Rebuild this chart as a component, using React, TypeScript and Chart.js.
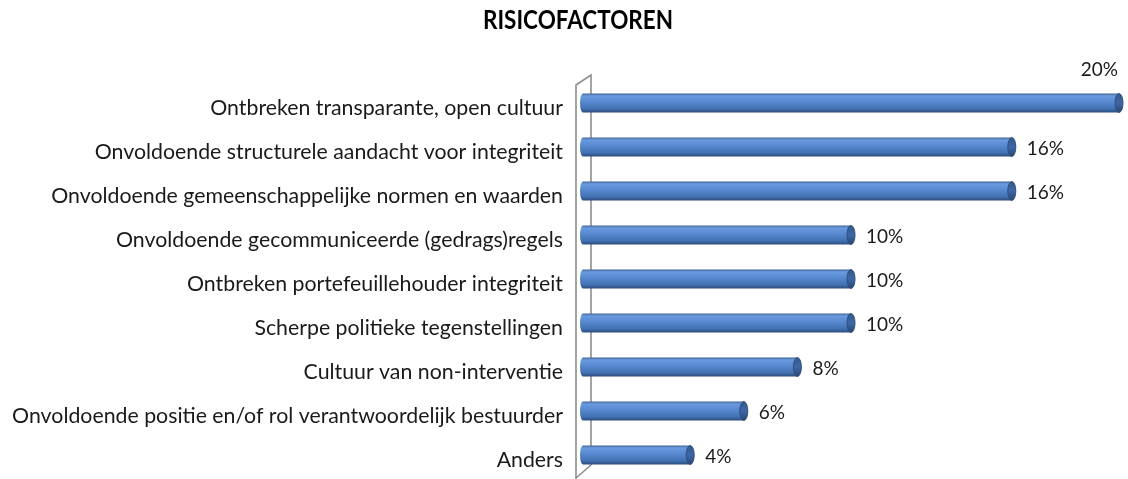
import React, { useEffect, useRef } from "react";
import { Chart, registerables } from "chart.js";

Chart.register(...registerables);

const TITLE = "RISICOFACTOREN";
const categories = [
  "Ontbreken transparante, open cultuur",
  "Onvoldoende structurele aandacht voor integriteit",
  "Onvoldoende gemeenschappelijke normen en waarden",
  "Onvoldoende gecommuniceerde (gedrags)regels",
  "Ontbreken portefeuillehouder integriteit",
  "Scherpe politieke tegenstellingen",
  "Cultuur van non-interventie",
  "Onvoldoende positie en/of rol verantwoordelijk bestuurder",
  "Anders",
];
const values = [20, 16, 16, 10, 10, 10, 8, 6, 4];
const valueLabels = ["20%", "16%", "16%", "10%", "10%", "10%", "8%", "6%", "4%"];
const X_MAX = 20;

const FONT = "Lato, 'Open Sans', sans-serif";

const wallPlugin = {
  id: "wall",
  beforeDatasetsDraw(chart: any) {
    const { ctx, chartArea } = chart;
    const l = chartArea.left - 7;
    const r = chartArea.left + 8;
    ctx.save();
    ctx.strokeStyle = "#8e8e8e";
    ctx.lineWidth = 1.6;
    ctx.beginPath();
    ctx.moveTo(l, chartArea.bottom + 4);
    ctx.lineTo(l, chartArea.top + 4);
    ctx.lineTo(r, chartArea.top - 6);
    ctx.lineTo(r, chartArea.bottom - 12);
    ctx.lineTo(l, chartArea.bottom + 1);
    ctx.stroke();
    ctx.restore();
  },
};

const cylinderPlugin = {
  id: "cylinders",
  afterDatasetsDraw(chart: any) {
    const { ctx } = chart;
    const meta = chart.getDatasetMeta(0);
    ctx.save();
    meta.data.forEach((el: any, i: number) => {
      const { x, y, base, height } = el.getProps(["x", "y", "base", "height"], true);
      const top = y - height / 2;
      const bot = y + height / 2;
      const ry = height / 2;
      const g = ctx.createLinearGradient(0, top, 0, bot);
      g.addColorStop(0, "#3f6396");
      g.addColorStop(0.12, "#6a9ade");
      g.addColorStop(0.4, "#5a8bd2");
      g.addColorStop(0.8, "#4272b3");
      g.addColorStop(1, "#2c4c7c");
      ctx.fillStyle = g;
      ctx.beginPath();
      ctx.moveTo(base, top);
      ctx.lineTo(x, top);
      ctx.lineTo(x, bot);
      ctx.lineTo(base, bot);
      ctx.ellipse(base, y, 3, ry, 0, Math.PI / 2, (3 * Math.PI) / 2);
      ctx.closePath();
      ctx.fill();
      const g2 = ctx.createLinearGradient(0, top, 0, bot);
      g2.addColorStop(0, "#35588a");
      g2.addColorStop(0.5, "#3d67a6");
      g2.addColorStop(1, "#2a4774");
      ctx.fillStyle = g2;
      ctx.strokeStyle = "#2f4f7e";
      ctx.lineWidth = 1;
      ctx.beginPath();
      ctx.ellipse(x, y, 4, ry, 0, 0, Math.PI * 2);
      ctx.fill();
      ctx.stroke();

      ctx.fillStyle = "#1a1a1a";
      ctx.font = `19px ${FONT}`;
      ctx.textBaseline = "middle";
      const label = valueLabels[i];
      const w = ctx.measureText(label).width;
      if (x + 15 + w > chart.width - 2) {
        ctx.textAlign = "right";
        ctx.fillText(label, x - 1, top - 24);
      } else {
        ctx.textAlign = "left";
        ctx.fillText(label, x + 15, y + 2);
      }
    });
    ctx.restore();
  },
};

const titlePlugin = {
  id: "customTitle",
  afterDraw(chart: any) {
    const { ctx } = chart;
    ctx.save();
    ctx.fillStyle = "#000";
    ctx.font = `bold 26px ${FONT}`;
    ctx.textAlign = "center";
    ctx.textBaseline = "middle";
    const w = ctx.measureText(TITLE).width;
    const sx = 190 / w;
    ctx.translate(578, 21);
    ctx.scale(sx, 1);
    ctx.fillText(TITLE, 0, 0);
    ctx.restore();
  },
};

export default function App() {
  const ref = useRef<HTMLCanvasElement>(null);
  useEffect(() => {
    if (!ref.current) return;
    const chart = new Chart(ref.current, {
      type: "bar",
      data: {
        labels: categories,
        datasets: [
          {
            data: values,
            backgroundColor: "rgba(0,0,0,0)",
            borderWidth: 0,
            barPercentage: 0.43,
            categoryPercentage: 1,
          },
        ],
      },
      options: {
        indexAxis: "y",
        responsive: true,
        maintainAspectRatio: false,
        animation: false,
        layout: { padding: { top: 81, bottom: 2, left: 0, right: 9 } },
        plugins: {
          legend: { display: false },
          title: { display: false },
          tooltip: { enabled: false },
        },
        scales: {
          x: {
            display: false,
            min: 0,
            max: X_MAX,
          },
          y: {
            afterFit: (s: any) => {
              s.width = 583;
              s.paddingTop = 0;
              s.paddingBottom = 0;
            },
            grid: { display: false, drawTicks: false },
            border: { display: false },
            ticks: {
              padding: 20,
              labelOffset: 5,
              color: "#1a1a1a",
              font: { family: FONT, size: 21.3 },
            },
          },
        },
      },
      plugins: [wallPlugin, cylinderPlugin, titlePlugin],
    });
    return () => chart.destroy();
  }, []);
  return (
    <div style={{ position: "fixed", left: 0, top: 0, width: 1128, height: 479, background: "#fff" }}>
      <canvas ref={ref} />
    </div>
  );
}
